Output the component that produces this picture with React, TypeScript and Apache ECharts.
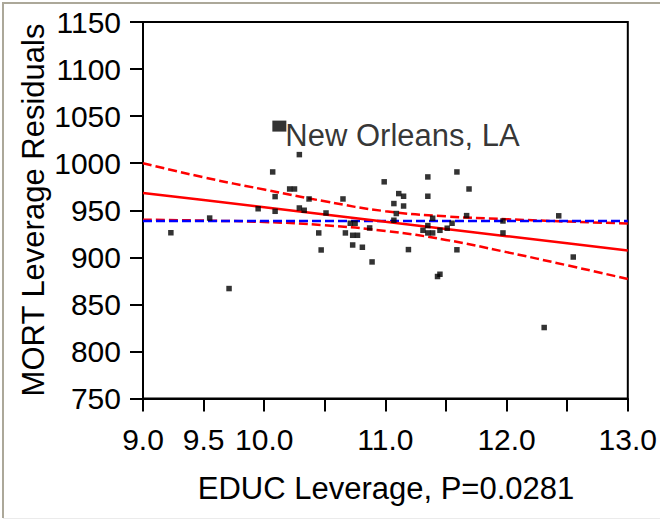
import React, { useEffect, useRef } from "react";
import * as echarts from "echarts";

// EDUC leverage (x) and MORT leverage residuals (y) for each city
const educLeverage = [
  9.23, 9.55, 9.71, 9.95, 10.07, 10.09, 10.09, 10.21, 10.25, 10.29,
  10.29, 10.33, 10.37, 10.45, 10.47, 10.51, 10.65, 10.67, 10.71, 10.75,
  10.73, 10.77, 10.73, 10.81, 10.87, 10.89, 10.99, 11.35, 11.59, 11.11,
  11.15, 11.35, 11.69, 11.07, 11.15, 11.09, 11.07, 11.39, 11.67, 11.35,
  11.55, 11.31, 11.35, 11.39, 11.45, 11.51, 11.97, 11.97, 12.43, 11.19,
  11.59, 12.55, 11.45, 11.43, 12.31,
];
const mortResiduals = [
  926.1, 941.7, 866.8, 951.6, 990.7, 964.5, 948.9, 972.6, 972.6, 1009.1,
  952.4, 950.0, 962.0, 925.9, 907.8, 947.1, 962.0, 925.9, 936.2, 936.2,
  923.4, 923.4, 913.1, 910.7, 931.2, 895.1, 980.2, 985.4, 990.7, 967.7,
  964.9, 964.9, 972.6, 957.1, 954.5, 946.5, 939.4, 941.5, 944.3, 933.7,
  936.2, 928.7, 925.9, 925.9, 928.7, 930.9, 938.6, 925.9, 944.1, 908.2,
  908.0, 900.3, 882.0, 879.6, 825.4,
];

const labeledName = "New Orleans, LA";
const labeledX = 10.125;
const labeledY = 1039.4;

// fit line and confidence curves, read at these x positions
const curveX = [9, 9.5, 10, 10.5, 11, 11.5, 12, 12.5, 13];
const fitLine = [968.4, 960.8, 953.1, 945.5, 937.8, 930.2, 922.5, 914.9, 907.2];
const upperConf = [1000, 985, 972, 959.5, 949, 943.5, 940.5, 938, 936];
const lowerConf = [940, 939, 937.5, 934, 928, 918.5, 905.5, 891.5, 877];
const meanLevel = 938.5;

const xTickLabels = ["9.0", "9.5", "10.0", "11.0", "12.0", "13.0"];
const xTitle = "EDUC Leverage, P=0.0281";
const yTitle = "MORT Leverage Residuals";

const FONT = "'Liberation Sans', Arial, Helvetica, sans-serif";

export default function App() {
  const ref = useRef<HTMLDivElement>(null);

  useEffect(() => {
    const chart = echarts.init(ref.current!, null, { renderer: "svg" });
    const pts = educLeverage.map((x, i) => [x, mortResiduals[i]]);
    const pair = (ys: number[]) => curveX.map((x, i) => [x, ys[i]]);

    chart.setOption({
      animation: false,
      backgroundColor: "#ffffff",
      grid: {
        left: 143,
        top: 22,
        width: 486,
        height: 376.5,
        show: true,
        borderColor: "#000",
        borderWidth: 2,
        backgroundColor: "transparent",
      },
      xAxis: {
        type: "value",
        min: 9,
        max: 13,
        interval: 0.5,
        axisLine: { show: true, lineStyle: { color: "#000", width: 2 } },
        axisTick: { show: true, inside: false, length: 13, lineStyle: { color: "#000", width: 2 } },
        splitLine: { show: false },
        axisLabel: {
          show: true,
          margin: 26,
          fontSize: 30,
          fontFamily: FONT,
          color: "#000",
          hideOverlap: false,
          showMinLabel: true,
          showMaxLabel: true,
          formatter: (v: number) => {
            const s = v.toFixed(1);
            return xTickLabels.includes(s) ? s : "";
          },
        },
      },
      yAxis: {
        type: "value",
        min: 750,
        max: 1150,
        interval: 50,
        axisLine: { show: true, lineStyle: { color: "#000", width: 2 } },
        axisTick: { show: true, inside: false, length: 13, lineStyle: { color: "#000", width: 2 } },
        splitLine: { show: false },
        axisLabel: {
          margin: 22,
          fontSize: 30,
          fontFamily: FONT,
          color: "#000",
          showMinLabel: true,
          showMaxLabel: true,
          formatter: (v: number) => String(Math.round(v)),
        },
      },
      graphic: [
        {
          type: "line",
          shape: { x1: 2, y1: 3, x2: 660, y2: 3 },
          style: { stroke: "#aca899", lineWidth: 2 },
        },
        {
          type: "line",
          shape: { x1: 3, y1: 2, x2: 3, y2: 518 },
          style: { stroke: "#aca899", lineWidth: 2 },
        },
        {
          type: "line",
          shape: { x1: 3, y1: 518.5, x2: 660, y2: 518.5 },
          style: { stroke: "#ebebeb", lineWidth: 1 },
        },
        {
          type: "text",
          x: 386,
          y: 488,
          style: {
            text: xTitle,
            fontSize: 31,
            fontFamily: FONT,
            fill: "#000",
            align: "center",
            verticalAlign: "middle",
          },
        },
        {
          type: "text",
          x: 33.5,
          y: 210,
          rotation: Math.PI / 2,
          style: {
            text: yTitle,
            fontSize: 31,
            fontFamily: FONT,
            fill: "#000",
            align: "center",
            verticalAlign: "middle",
          },
        },
      ],
      series: [
        {
          type: "line",
          data: pair(upperConf),
          smooth: true,
          showSymbol: false,
          lineStyle: { color: "#ff0000", width: 2.5, type: [9, 4] },
          z: 2,
        },
        {
          type: "line",
          data: pair(lowerConf),
          smooth: true,
          showSymbol: false,
          lineStyle: { color: "#ff0000", width: 2.5, type: [9, 4] },
          z: 2,
        },
        {
          type: "line",
          data: [
            [9, meanLevel],
            [13, meanLevel],
          ],
          showSymbol: false,
          lineStyle: { color: "#0000ff", width: 2.5, type: [9, 4] },
          z: 3,
        },
        {
          type: "line",
          data: pair(fitLine),
          showSymbol: false,
          lineStyle: { color: "#ff0000", width: 2.5 },
          z: 3,
        },
        {
          type: "scatter",
          data: pts,
          symbol: "rect",
          symbolSize: 5.5,
          itemStyle: { color: "#000" },
          z: 5,
        },
        {
          type: "scatter",
          data: [{ name: labeledName, value: [labeledX, labeledY] }],
          symbol: "rect",
          symbolSize: [14, 11],
          itemStyle: { color: "#000" },
          label: {
            show: true,
            position: "right",
            distance: 0,
            offset: [-1, 9],
            formatter: "{b}",
            fontSize: 31,
            fontFamily: FONT,
            color: "#000",
          },
          z: 6,
        },
      ],
    });

    return () => chart.dispose();
  }, []);

  return (
    <div
      ref={ref}
      style={{ position: "fixed", left: 0, top: 0, width: 660, height: 520, background: "#fff" }}
    />
  );
}
